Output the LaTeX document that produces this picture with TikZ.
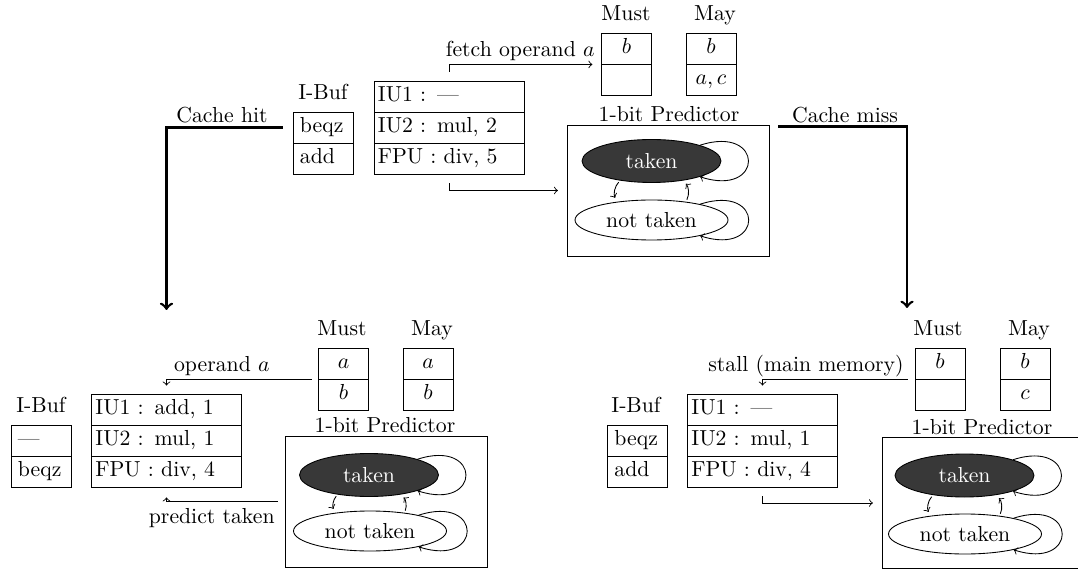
\documentclass[tikz,border=0pt]{standalone}
\usetikzlibrary{shapes.geometric}
\begin{document}
\begin{tikzpicture}[x=0.46pt, y=-0.46pt,
  cell/.style={draw, inner xsep=0pt, inner ysep=0pt, minimum height=14.26pt,
               text height=7pt, text depth=2.5pt},
  mcell/.style={cell, minimum width=23pt},
  ibcell/.style={cell, inner xsep=3.2pt, text width=21.2pt, align=left},
  fucell/.style={cell, inner xsep=1.8pt, text width=65.4pt, align=left},
  predbox/.style={draw, minimum width=92.9pt, minimum height=60.26pt, inner sep=0pt},
  stT/.style={ellipse, draw, fill=black!78, text=white, minimum width=63.94pt,
              minimum height=19.78pt, inner sep=0pt},
  stN/.style={ellipse, draw, fill=white, minimum width=70.38pt,
              minimum height=18.4pt, inner sep=0pt},
  lbl/.style={anchor=base, inner sep=0pt},
  flow/.style={->, shorten <=4pt, shorten >=4pt},
  branch/.style={->, very thick},
  selfloop/.style={->, out=18, in=-18, looseness=5.5},
  trans/.style={->, shorten <=1pt, shorten >=2pt, bend right=35}]

\useasboundingbox (0,0) rectangle (1078,570);
\clip (0,0) rectangle (1078,570);

% ---------------- current state (top) ----------------
\node[lbl] (tibl) at (323,100) {I-Buf};
\node[ibcell] (ta1) at (323,127.5) {beqz};
\node[ibcell] (ta2) at (323,158.5) {add};

\node[fucell] (tu1) at (449,96.5)  {IU1 : ---};
\node[fucell] (tu2) at (449,127.5) {IU2 : mul, 2};
\node[fucell] (tu3) at (449,158.5) {FPU : div, 5};

\node[lbl] (tmustl) at (626,20.5) {Must};
\node[mcell] (tm1) at (626.5,48.5) {$b$};
\node[mcell] (tm2) at (626.5,79.5) {};
\node[lbl] (tmayl) at (715,20.5) {May};
\node[mcell] (ty1) at (711,48.5) {$b$};
\node[mcell] (ty2) at (711,79.5) {$a, c$};

\node[lbl] (tpl) at (669,121.7) {1-bit Predictor};
\node[predbox] (tp) at (668,190.5) {};
\node[stT] (tt) at (651.5,161) {taken};
\node[stN] (tn) at (651.5,220) {not taken};
\draw[selfloop] (tt) to (tt);
\draw[selfloop] (tn) to (tn);
\draw[trans] (tt.212) to (tn.152);
\draw[trans] (tn.28) to (tt.328);

\draw[flow] (tu1.north) |- (tm1.south west);
\node[lbl, anchor=base east] (tfetch) at (595,57) {fetch operand $a$};
\draw[flow] (tu3.south) |- (tp.west);

% branches
\coordinate (hitend) at (166.5,310);
\coordinate (missend) at (907,308);
\draw[branch, shorten <=4.6pt] (ta1.west) -| (hitend);
\node[lbl] (hitl) at (222,123) {Cache hit};
\draw[branch, shorten <=4pt] ([yshift=-0.9pt]tp.north east) -| (missend);
\node[lbl] (missl) at (845,123) {Cache miss};

% ---------------- cache hit (bottom left) ----------------
\node[lbl] (libl) at (41,413) {I-Buf};
\node[ibcell] (la1) at (41,440.5) {---};
\node[ibcell] (la2) at (41,471.5) {beqz};

\node[fucell] (lu1) at (166.5,409.5) {IU1 : add, 1};
\node[fucell] (lu2) at (166.5,440.5) {IU2 : mul, 1};
\node[fucell] (lu3) at (166.5,471.5) {FPU : div, 4};

\node[lbl] (lmustl) at (342,335.5) {Must};
\node[mcell] (lm1) at (343.5,363.5) {$a$};
\node[mcell] (lm2) at (343.5,394.5) {$b$};
\node[lbl] (lmayl) at (432,335.5) {May};
\node[mcell] (ly1) at (428,363.5) {$a$};
\node[mcell] (ly2) at (428,394.5) {$b$};

\node[lbl] (lpl) at (385,432.7) {1-bit Predictor};
\node[predbox] (lp) at (386,501.5) {};
\node[stT] (lt) at (369,475) {taken};
\node[stN] (ln) at (370,531) {not taken};
\draw[selfloop] (lt) to (lt);
\draw[selfloop] (ln) to (ln);
\draw[trans] (lt.212) to (ln.152);
\draw[trans] (ln.28) to (lt.328);

\draw[->, shorten <=3pt, shorten >=3.7pt] (lm1.south west) -| (lu1.north);
\node[lbl, anchor=base east] (lop) at (270,371.5) {operand $a$};
\draw[->, shorten <=3.2pt, shorten >=4.6pt] (lp.west) -| (lu3.south);
\node[lbl, anchor=base east] (lpred) at (275,523) {predict taken};

% ---------------- cache miss (bottom right) ----------------
\node[lbl] (ribl) at (636,413) {I-Buf};
\node[ibcell] (ra1) at (637.5,440.5) {beqz};
\node[ibcell] (ra2) at (637.5,471.5) {add};

\node[fucell] (ru1) at (762.5,409.5) {IU1 : ---};
\node[fucell] (ru2) at (762.5,440.5) {IU2 : mul, 1};
\node[fucell] (ru3) at (762.5,471.5) {FPU : div, 4};

\node[lbl] (rmustl) at (938,335.5) {Must};
\node[mcell] (rm1) at (940,363.5) {$b$};
\node[mcell] (rm2) at (940,394.5) {};
\node[lbl] (rmayl) at (1029,335.5) {May};
\node[mcell] (ry1) at (1025,363.5) {$b$};
\node[mcell] (ry2) at (1025,394.5) {$c$};

\node[lbl] (rpl) at (982,434.7) {1-bit Predictor};
\node[predbox] (rp) at (983,503) {};
\node[stT] (rt) at (964.5,475.5) {taken};
\node[stN] (rn) at (965,534) {not taken};
\draw[selfloop] (rt) to (rt);
\draw[selfloop] (rn) to (rn);
\draw[trans] (rt.212) to (rn.152);
\draw[trans] (rn.28) to (rt.328);

\draw[->, shorten <=3.2pt, shorten >=3.7pt] (rm1.south west) -| (ru1.north);
\node[lbl, anchor=base east] (rstall) at (904,371.5) {stall (main memory)};
\draw[flow] (ru3.south) |- (rp.west);
\end{tikzpicture}
\end{document}
